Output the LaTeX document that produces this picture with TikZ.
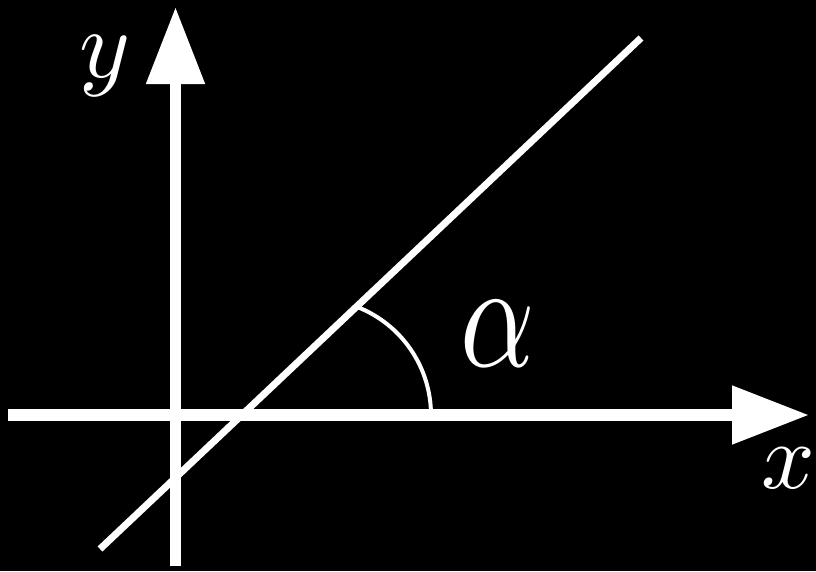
\documentclass[tikz,border=0pt]{standalone}
\usetikzlibrary{arrows.meta}
\begin{document}
\begin{tikzpicture}[x=1pt,y=-1pt,
  axis/.style={white,line width=11.5pt,-{Triangle[length=77pt,width=56pt]}},
  lbl/.style={white,inner sep=0pt,anchor=base}]
\fill[black] (0,0) rectangle (816,571);
\useasboundingbox (0,0) rectangle (816,571);
\coordinate (xs) at (8,415);
\coordinate (xe) at (809,415);
\coordinate (ys) at (175.5,566);
\coordinate (ye) at (175.5,7);
\coordinate (ls) at (100,549);
\coordinate (le) at (641,38);
\coordinate (a0) at (431,415);
\draw[axis] (xs) -- (xe);
\draw[axis] (ys) -- (ye);
\draw[white,line width=7pt] (ls) -- (le);
\draw[white,line width=4pt] (a0) arc[start angle=0,end angle=69,radius=116pt];
\node[lbl] (ylab) at (105,77) {\scalebox{9.7}{$y$}};
\node[lbl] (xlab) at (788,488) {\scalebox{9.4}{$x$}};
\node[lbl] (alab) at (498,366) {\scalebox{11.6}[15.2]{$\alpha$}};
\end{tikzpicture}
\end{document}
